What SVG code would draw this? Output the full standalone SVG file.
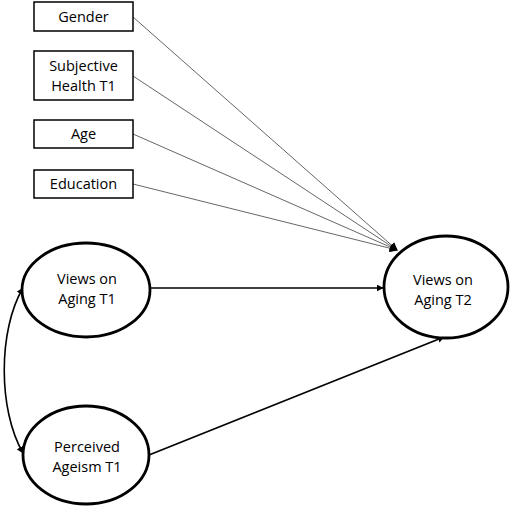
<svg xmlns="http://www.w3.org/2000/svg" width="510" height="508" viewBox="0 0 510 508">
<defs>
<style>
.box{fill:#fff;stroke:#000;stroke-width:1.5}
.ell{fill:#fff;stroke:#000;stroke-width:2.8}
.t{font-family:"Open Sans","Noto Sans",sans-serif;font-size:14.5px;fill:#000;text-anchor:middle}
.cov{stroke:#666;stroke-width:1;fill:none}
.main{stroke:#000;stroke-width:1.6;fill:none}
</style>
<marker id="ah" viewBox="0 0 10 10" refX="9" refY="5" markerWidth="7" markerHeight="7" markerUnits="userSpaceOnUse" orient="auto-start-reverse">
<path d="M0,0 L10,5 L0,10 z" fill="#000"/>
</marker>
<marker id="ahs" viewBox="0 0 10 10" refX="9" refY="5" markerWidth="8" markerHeight="8" markerUnits="userSpaceOnUse" orient="auto">
<path d="M0,0 L10,5 L0,10 z" fill="#000"/>
</marker>
</defs>
<rect width="510" height="508" fill="#fff"/>
<g id="connectors">
<line class="cov" x1="133" y1="17" x2="397" y2="250" marker-end="url(#ahs)"/>
<line class="cov" x1="133" y1="76" x2="397" y2="250" marker-end="url(#ahs)"/>
<line class="cov" x1="133" y1="134" x2="397" y2="250" marker-end="url(#ahs)"/>
<line class="cov" x1="133" y1="184" x2="397" y2="250" marker-end="url(#ahs)"/>
<line class="main" x1="151" y1="288" x2="383" y2="288" marker-end="url(#ah)"/>
<line class="main" x1="149" y1="455" x2="444" y2="337" marker-end="url(#ah)"/>
<path class="main" d="M23,288 C-2,330 -2,410 23,453" marker-start="url(#ah)" marker-end="url(#ah)"/>
</g>
<g id="gender"><rect class="box" x="34" y="2" width="99" height="29"/><text class="t" x="83.5" y="22">Gender</text></g>
<g id="health"><rect class="box" x="34" y="51" width="99" height="49"/><text class="t" x="83.5" y="71">Subjective</text><text class="t" x="83.5" y="91">Health T1</text></g>
<g id="age"><rect class="box" x="34" y="120" width="99" height="28"/><text class="t" x="83.5" y="139">Age</text></g>
<g id="education"><rect class="box" x="34" y="170" width="99" height="28"/><text class="t" x="83.5" y="189">Education</text></g>
<g id="voa1"><ellipse class="ell" cx="86" cy="290" rx="64" ry="47"/><text class="t" x="87" y="284">Views on</text><text class="t" x="87" y="304">Aging T1</text></g>
<g id="ageism"><ellipse class="ell" cx="86" cy="455" rx="63" ry="49"/><text class="t" x="87" y="452">Perceived</text><text class="t" x="87" y="472">Ageism T1</text></g>
<g id="voa2"><ellipse class="ell" cx="446" cy="287" rx="62" ry="51"/><text class="t" x="443" y="285">Views on</text><text class="t" x="443" y="305">Aging T2</text></g>
</svg>
